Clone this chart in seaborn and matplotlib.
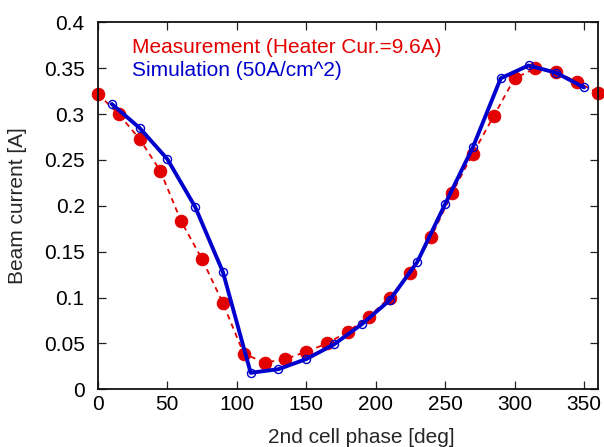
"""Beam current vs 2nd cell phase: measurement against simulation."""

import matplotlib
matplotlib.use("Agg")
import matplotlib.pyplot as plt
import seaborn as sns

sns.set_theme(style="ticks")
plt.rcParams["font.family"] = ["Liberation Sans", "DejaVu Sans"]

# measured beam current (heater current 9.6 A)
meas_phase = [0, 15, 30, 45, 60, 75, 90, 105, 120, 135, 150, 165, 180,
              195, 210, 225, 240, 255, 270, 285, 300, 315, 330, 345, 360]
meas_current = [0.322, 0.300, 0.273, 0.238, 0.183, 0.142, 0.094, 0.039,
                0.029, 0.033, 0.041, 0.050, 0.063, 0.079, 0.100, 0.127,
                0.166, 0.214, 0.257, 0.298, 0.339, 0.350, 0.346, 0.335,
                0.323]

# simulated beam current (50 A/cm^2)
sim_phase = [10, 30, 50, 70, 90, 110, 130, 150, 170, 190, 210, 230, 250,
             270, 290, 310, 330, 350]
sim_current = [0.311, 0.285, 0.251, 0.199, 0.128, 0.018, 0.022, 0.033,
               0.049, 0.071, 0.097, 0.139, 0.202, 0.264, 0.339, 0.353,
               0.345, 0.329]

RED = "#e20000"
BLUE = "#0000cc"
FS = 15

fig, ax = plt.subplots(figsize=(6.04, 4.47), dpi=100)
fig.subplots_adjust(left=0.162, right=0.990, bottom=0.129, top=0.950)

sns.lineplot(x=meas_phase, y=meas_current, ax=ax, color=RED, linewidth=1.3,
             linestyle=(0, (3, 2.5)), marker="o", markersize=9,
             markeredgecolor=RED, markerfacecolor=RED, clip_on=False,
             label="Measurement (Heater Cur.=9.6A)")
sns.lineplot(x=sim_phase, y=sim_current, ax=ax, color=BLUE, linewidth=2.8,
             marker="o", markersize=5.8, markerfacecolor="none",
             markeredgecolor=BLUE, markeredgewidth=1.0, clip_on=False,
             label="Simulation (50A/cm^2)")

ax.set_xlim(0, 360)
ax.set_ylim(0, 0.4)
ax.set_xticks(range(0, 351, 50))
ax.set_yticks([0, 0.05, 0.1, 0.15, 0.2, 0.25, 0.3, 0.35, 0.4])
ax.set_yticklabels(["0", "0.05", "0.1", "0.15", "0.2", "0.25", "0.3",
                    "0.35", "0.4"])
ax.tick_params(direction="in", top=True, right=True, length=5.8, width=0.9,
               labelsize=FS, colors="#222222", labelcolor="black")
ax.tick_params(axis="x", pad=4)
ax.tick_params(axis="y", pad=9.5)
for side in ax.spines.values():
    side.set_color("#111111")
    side.set_linewidth(1.3)

ax.set_xlabel("2nd cell phase [deg]", fontsize=FS, labelpad=10, x=0.526)
ax.set_ylabel("Beam current [A]", fontsize=FS, labelpad=12)

leg = ax.legend(loc="upper left", bbox_to_anchor=(0.031, 1.008), frameon=False,
                handlelength=0, handletextpad=0, labelspacing=0.2,
                fontsize=FS, labelcolor=[RED, BLUE])
for h in leg.legend_handles:
    h.set_visible(False)

fig.savefig("out.png", dpi=100)
